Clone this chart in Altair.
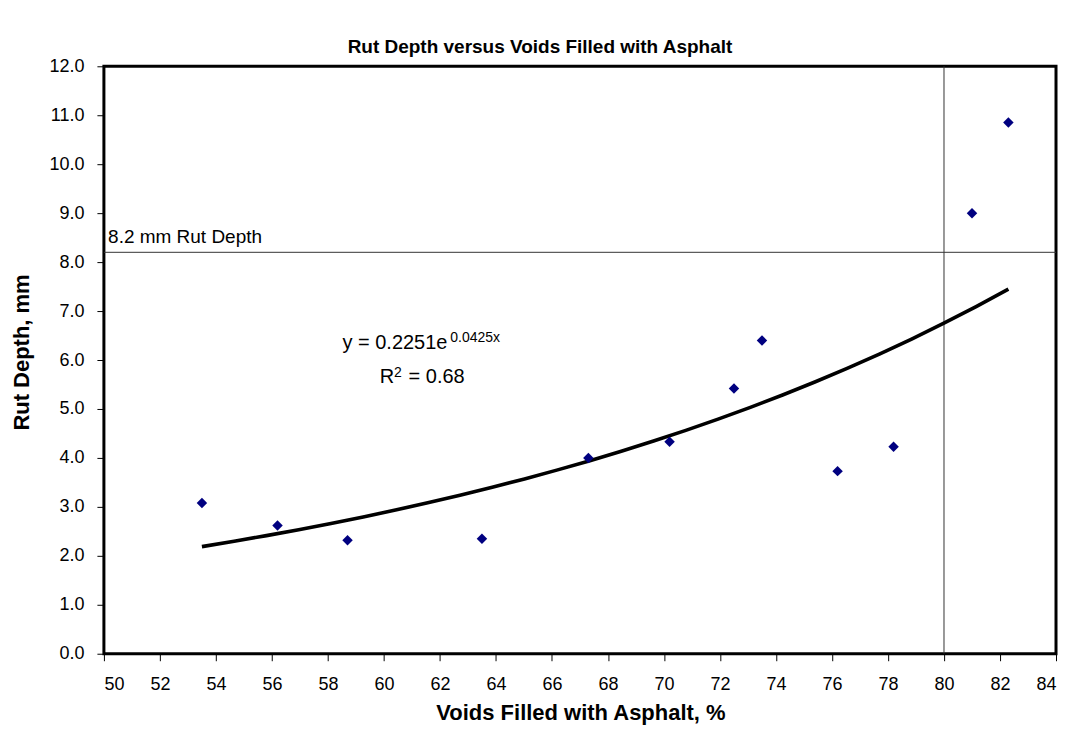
import altair as alt
import pandas as pd

# measured data (voids filled with asphalt %, rut depth mm)
vfa = [53.5, 56.2, 58.7, 63.5, 67.3, 70.2, 72.5, 73.5, 76.2, 78.2, 81.0, 82.3]
rut = [3.08, 2.62, 2.32, 2.35, 4.00, 4.33, 5.42, 6.40, 3.73, 4.23, 9.00, 10.85]

# reference lines
limit_rut = [8.2]
limit_vfa = [80]
limit_label = ["8.2 mm Rut Depth"]
limit_label_x = [50.15]

# axis ticks
x_ticks = list(range(50, 86, 2))
y_ticks = list(range(0, 13))

# trendline equation annotation
eq_text = ["y = 0.2251e", "R", "= 0.68"]
eq_x = [58.52, 59.85, 60.88]
eq_y = [6.22, 5.53, 5.53]
sup_text = ["0.0425x", "2"]
sup_x = [62.37, 60.36]
sup_y = [6.37, 5.66]

FONT = "Liberation Sans"

pts = pd.DataFrame({"vfa": vfa, "rut": rut})
hl = pd.DataFrame({"rut": limit_rut, "vfa": limit_label_x, "label": limit_label})
vl = pd.DataFrame({"vfa": limit_vfa})
eq = pd.DataFrame({"vfa": eq_x, "rut": eq_y, "t": eq_text})
sup = pd.DataFrame({"vfa": sup_x, "rut": sup_y, "t": sup_text})

x_scale = alt.Scale(domain=[50, 84], nice=False, zero=False)
y_scale = alt.Scale(domain=[0, 12], nice=False, zero=True)

x_axis = alt.Axis(values=x_ticks, format="d", labelPadding=15,
                  titleX=477, titleY=66, titleBaseline="alphabetic", titleAlign="center")
y_axis = alt.Axis(values=y_ticks, format=".1f", labelPadding=13,
                  titleX=-75.5, titleY=286, titleAngle=270, titleBaseline="alphabetic",
                  titleAlign="center")


def X(field="vfa"):
    return alt.X(f"{field}:Q", scale=x_scale, axis=x_axis, title="Voids Filled with Asphalt, %")


def Y(field="rut"):
    return alt.Y(f"{field}:Q", scale=y_scale, axis=y_axis, title="Rut Depth, mm")


points = alt.Chart(pts).mark_point(
    shape="diamond", filled=True, size=110, color="#000080", opacity=1
).encode(x=X(), y=Y())

trend = (
    alt.Chart(pts)
    .transform_calculate(lr="log(datum.rut)")
    .transform_regression("vfa", "lr", method="poly", order=1)
    .transform_calculate(fit="exp(datum.lr)")
    .mark_line(color="black", strokeWidth=3.6)
    .encode(x=X(), y=Y("fit"))
)

hrule = alt.Chart(hl).mark_rule(color="#333333", strokeWidth=1).encode(y=Y())
vrule = alt.Chart(vl).mark_rule(color="#333333", strokeWidth=1).encode(x=X())

hlabel = alt.Chart(hl).mark_text(
    align="left", baseline="alphabetic", dy=-9, font=FONT, fontSize=19, color="black"
).encode(x=X(), y=Y(), text="label:N")

eq_main = alt.Chart(eq).mark_text(
    align="left", baseline="alphabetic", font=FONT, fontSize=20, color="black"
).encode(x=X(), y=Y(), text="t:N")

eq_sup = alt.Chart(sup).mark_text(
    align="left", baseline="alphabetic", font=FONT, fontSize=14, color="black"
).encode(x=X(), y=Y(), text="t:N")

chart = (
    alt.layer(hrule, vrule, trend, points, hlabel, eq_main, eq_sup)
    .properties(
        width=953,
        height=588,
        background="white",
        title=alt.TitleParams(
            text="Rut Depth versus Voids Filled with Asphalt",
            font=FONT, fontSize=19, fontWeight="bold", color="black",
            anchor="middle", dx=-40, offset=-15, baseline="alphabetic",
        ),
        autosize=alt.AutoSizeParams(type="none"),
        padding={"left": 96, "top": 58, "right": 8, "bottom": 73},
    )
    .configure_view(stroke="black", strokeWidth=3)
    .configure_axis(
        domain=False, grid=False, ticks=True, tickColor="black", tickSize=7, tickWidth=1,
        labelFont=FONT, labelFontSize=18, labelColor="black",
        titleFont=FONT, titleFontSize=22, titleFontWeight="bold", titleColor="black",
    )
)

chart.save("out.html", embed_options={"renderer": "svg", "actions": False})
